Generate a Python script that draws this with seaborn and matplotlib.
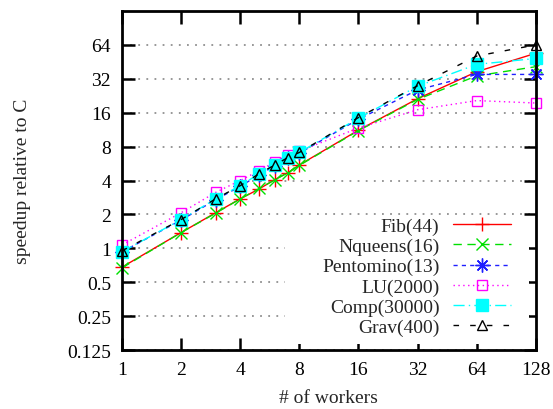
import pandas as pd
import numpy as np
import matplotlib
matplotlib.use("Agg")
import matplotlib.pyplot as plt
import seaborn as sns
from matplotlib.patches import Rectangle

# data
workers = [1, 2, 3, 4, 5, 6, 7, 8, 16, 32, 64, 128]
fib = [0.68, 1.38, 2.07, 2.75, 3.37, 4.08, 4.7, 5.5, 11.2, 21.3, 37, 54]
nqueens = [0.67, 1.38, 2.05, 2.75, 3.4, 4.05, 4.7, 5.45, 11.1, 21, 34, 41]
pentomino = [0.93, 1.78, 2.7, 3.55, 4.5, 5.4, 6.3, 7.0, 14.0, 25.5, 35, 35]
lu = [1.07, 2.07, 3.14, 4.0, 4.9, 5.85, 6.7, 7.3, 11.7, 17, 20.5, 19.5]
comp = [0.93, 1.8, 2.75, 3.6, 4.6, 5.5, 6.4, 7.1, 14.3, 27.5, 43, 48.5]
grav = [0.95, 1.8, 2.75, 3.6, 4.6, 5.5, 6.4, 7.1, 14.5, 27.8, 51, 64]

names = ["Fib(44)", "Nqueens(16)", "Pentomino(13)", "LU(2000)", "Comp(30000)", "Grav(400)"]
series = [fib, nqueens, pentomino, lu, comp, grav]

x_ticks = [1, 2, 4, 8, 16, 32, 64, 128]
y_ticks = [0.125, 0.25, 0.5, 1, 2, 4, 8, 16, 32, 64]
y_labels = ["0.125", "0.25", "0.5", "1", "2", "4", "8", "16", "32", "64"]

# gnuplot like styles
styles = [
    dict(color="#ff0000", marker="+", ms=10, dashes=None),
    dict(color="#00e000", marker="x", ms=8, dashes=(6, 4)),
    dict(color="#2020ff", marker=(8, 2, 0), ms=10, dashes=(3, 3)),
    dict(color="#ff00ff", marker="s", ms=7, mfc="none", dashes=(1, 2.5)),
    dict(color="#00ffff", marker="s", ms=8, mfc="#00ffff", dashes=(8, 3, 1, 3)),
    dict(color="#000000", marker="^", ms=7, mfc="none", dashes=(4, 8)),
]

sns.set_style("ticks")
plt.rcParams["font.family"] = ["Liberation Serif", "DejaVu Serif"]
plt.rcParams["font.size"] = 14

fig = plt.figure(figsize=(5.53, 4.10), dpi=100)
ax = fig.add_axes([0.2206, 0.1439, 0.7484, 0.8268])

for name, vals, st in zip(names, series, styles):
    df = pd.DataFrame({"workers": workers, "speedup": vals})
    st = dict(st)
    dsh = st.pop("dashes")
    col = st.pop("color")
    sns.lineplot(data=df, x="workers", y="speedup", color=col, lw=1.0,
                 label=name, estimator=None, ax=ax,
                 mec=col, mew=1.0, clip_on=False, **st)
    ln = ax.get_lines()[-1]
    if dsh is not None:
        ln.set_dashes(dsh)

ax.set_xscale("log", base=2)
ax.set_yscale("log", base=2)
ax.set_xlim(1, 128)
ax.set_ylim(0.125, 128)
ax.set_xticks(x_ticks)
ax.set_xticklabels([str(t) for t in x_ticks])
ax.set_yticks(y_ticks)
ax.set_yticklabels(y_labels)
ax.minorticks_off()

ax.yaxis.grid(True, color="#909090", linestyle=(0, (1, 3.5)), linewidth=1.3)
ax.xaxis.grid(False)

# opaque key area, like gnuplot
ax.add_patch(Rectangle((0.394, 0.018), 0.59, 0.378, transform=ax.transAxes,
                       facecolor="white", edgecolor="none", zorder=1.8))

for sp in ax.spines.values():
    sp.set_visible(True)
    sp.set_linewidth(2.0)
    sp.set_color("black")
ax.tick_params(which="major", direction="in", top=True, right=True,
               length=9, width=1.8, colors="black", labelsize=14)
ax.tick_params(axis="x", pad=8)
ax.tick_params(axis="y", pad=8)

ax.set_xlabel("# of workers", fontsize=14, labelpad=8)
ax.set_ylabel("speedup relative to C", fontsize=14, labelpad=26)

ax.legend(loc="lower right", bbox_to_anchor=(0.9396, 0.041), frameon=False,
          markerfirst=False, handlelength=3.0, handletextpad=0.67,
          labelspacing=0.13, borderpad=0, borderaxespad=0, numpoints=1,
          fontsize=14)

fig.savefig("out.png", dpi=100)
